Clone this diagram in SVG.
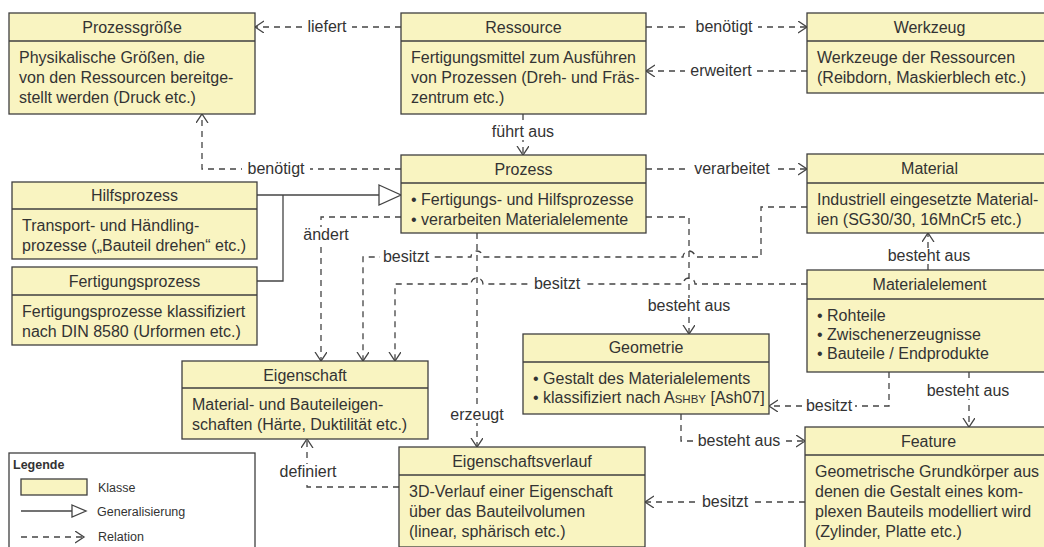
<svg xmlns="http://www.w3.org/2000/svg" width="1044" height="547" viewBox="0 0 1044 547">
  <style>
    .box { fill: #f9f4c1; stroke: #3f3f3f; stroke-width: 1.3; }
    .sep { stroke: #3f3f3f; stroke-width: 1.3; }
    .title { font-family: "Liberation Sans", Arial, sans-serif; font-size: 16px; fill: #333; text-anchor: middle; }
    .body { font-family: "Liberation Sans", Arial, sans-serif; font-size: 16px; fill: #333; }
    .rel { fill: none; stroke: #444; stroke-width: 1.3; stroke-dasharray: 6 5; }
    .gen { fill: none; stroke: #444; stroke-width: 1.3; }
    .lbl { font-family: "Liberation Sans", Arial, sans-serif; font-size: 16px; fill: #333; text-anchor: middle; }
    .lblbg { fill: #fff; stroke: none; }
    .leg { font-family: "Liberation Sans", Arial, sans-serif; font-size: 12.5px; fill: #333; }
  </style>
  <defs>
    <marker id="open" markerUnits="userSpaceOnUse" markerWidth="12" markerHeight="14" refX="9" refY="6" orient="auto">
      <path d="M0,0 L9,6 L0,12" fill="none" stroke="#444" stroke-width="1.3"/>
    </marker>
  </defs>

  <rect width="1044" height="547" fill="#fff"/>

  <!-- connectors -->
  <g id="connectors">
    <path class="rel" d="M401,27 H255" marker-end="url(#open)"/>
    <path class="rel" d="M646,27 H807" marker-end="url(#open)"/>
    <path class="rel" d="M807,71 H646" marker-end="url(#open)"/>
    <path class="rel" d="M523,114 V155" marker-end="url(#open)"/>
    <path class="rel" d="M401,169 H202 V114" marker-end="url(#open)"/>
    <path class="rel" d="M646,169 H807" marker-end="url(#open)"/>
    <path class="rel" d="M401,217 H321 V361" marker-end="url(#open)"/>
    <path class="rel" d="M807,207 H761 V257 H695 A6,6 0 0 0 683,257 H483 A6,6 0 0 0 471,257 H363 V361" marker-end="url(#open)"/>
    <path class="rel" d="M807,284 H695 A6,6 0 0 0 683,284 H483 A6,6 0 0 0 471,284 H395 V361" marker-end="url(#open)"/>
    <path class="rel" d="M477,233 V447" marker-end="url(#open)"/>
    <path class="rel" d="M646,217 H689 V334" marker-end="url(#open)"/>
    <path class="rel" d="M928,270 V233" marker-end="url(#open)"/>
    <path class="rel" d="M889,372 V406 H769" marker-end="url(#open)"/>
    <path class="rel" d="M969,372 V427" marker-end="url(#open)"/>
    <path class="rel" d="M681,414 V441 H805" marker-end="url(#open)"/>
    <path class="rel" d="M805,502 H645" marker-end="url(#open)"/>
    <path class="rel" d="M399,487 H307 V439" marker-end="url(#open)"/>
    <!-- generalization -->
    <path class="gen" d="M257,195 H379"/>
    <path class="gen" d="M257,281 H283 V195"/>
    <polygon class="gen" points="379,185 401,195 379,205" fill="#fff"/>

    <!-- relation labels -->
    <g id="labels">
      <rect class="lblbg" x="302" y="19" width="50" height="16"/><text class="lbl" x="327" y="32">liefert</text>
      <rect class="lblbg" x="690" y="19" width="68" height="16"/><text class="lbl" x="724" y="32">benötigt</text>
      <rect class="lblbg" x="685" y="63" width="72" height="16"/><text class="lbl" x="721" y="76">erweitert</text>
      <rect class="lblbg" x="489" y="124" width="68" height="16"/><text class="lbl" x="523" y="137">führt aus</text>
      <rect class="lblbg" x="242" y="161" width="68" height="16"/><text class="lbl" x="276" y="174">benötigt</text>
      <rect class="lblbg" x="690" y="161" width="84" height="16"/><text class="lbl" x="732" y="174">verarbeitet</text>
      <rect class="lblbg" x="301" y="227" width="50" height="16"/><text class="lbl" x="326" y="240">ändert</text>
      <rect class="lblbg" x="380" y="249" width="52" height="16"/><text class="lbl" x="406" y="262">besitzt</text>
      <rect class="lblbg" x="531" y="276" width="52" height="16"/><text class="lbl" x="557" y="289">besitzt</text>
      <rect class="lblbg" x="449" y="407" width="56" height="16"/><text class="lbl" x="477" y="420">erzeugt</text>
      <rect class="lblbg" x="645" y="298" width="88" height="16"/><text class="lbl" x="689" y="311">besteht aus</text>
      <rect class="lblbg" x="885" y="248" width="88" height="16"/><text class="lbl" x="929" y="261">besteht aus</text>
      <rect class="lblbg" x="803" y="398" width="52" height="16"/><text class="lbl" x="829" y="411">besitzt</text>
      <rect class="lblbg" x="924" y="383" width="88" height="16"/><text class="lbl" x="968" y="396">besteht aus</text>
      <rect class="lblbg" x="695" y="433" width="88" height="16"/><text class="lbl" x="739" y="446">besteht aus</text>
      <rect class="lblbg" x="699" y="494" width="52" height="16"/><text class="lbl" x="725" y="507">besitzt</text>
      <rect class="lblbg" x="278" y="464" width="60" height="16"/><text class="lbl" x="308" y="477">definiert</text>
    </g>
  </g>

  <!-- classes -->
  <g id="prozessgroesse">
    <rect class="box" x="9" y="13" width="246" height="101"/>
    <line class="sep" x1="9" y1="41" x2="255" y2="41"/>
    <text class="title" x="132" y="32.5">Prozessgröße</text>
    <text class="body" x="19" y="63">Physikalische Größen, die</text>
    <text class="body" x="19" y="83">von den Ressourcen bereitge-</text>
    <text class="body" x="19" y="103">stellt werden (Druck etc.)</text>
  </g>

  <g id="ressource">
    <rect class="box" x="401" y="13" width="245" height="101"/>
    <line class="sep" x1="401" y1="41" x2="646" y2="41"/>
    <text class="title" x="523.5" y="32.5">Ressource</text>
    <text class="body" x="411" y="63">Fertigungsmittel zum Ausführen</text>
    <text class="body" x="411" y="83">von Prozessen (Dreh- und Fräs-</text>
    <text class="body" x="411" y="103">zentrum etc.)</text>
  </g>

  <g id="werkzeug">
    <rect class="box" x="807" y="13" width="245" height="80"/>
    <line class="sep" x1="807" y1="41" x2="1052" y2="41"/>
    <text class="title" x="929.5" y="32.5">Werkzeug</text>
    <text class="body" x="817" y="63">Werkzeuge der Ressourcen</text>
    <text class="body" x="817" y="83">(Reibdorn, Maskierblech etc.)</text>
  </g>

  <g id="prozess">
    <rect class="box" x="401" y="155" width="245" height="78"/>
    <line class="sep" x1="401" y1="183" x2="646" y2="183"/>
    <text class="title" x="523.5" y="174.5">Prozess</text>
    <text class="body" x="411" y="205">• Fertigungs- und Hilfsprozesse</text>
    <text class="body" x="411" y="225">• verarbeiten Materialelemente</text>
  </g>

  <g id="material">
    <rect class="box" x="807" y="154" width="245" height="79"/>
    <line class="sep" x1="807" y1="183" x2="1052" y2="183"/>
    <text class="title" x="929.5" y="174">Material</text>
    <text class="body" x="817" y="205">Industriell eingesetzte Material-</text>
    <text class="body" x="817" y="225">ien (SG30/30, 16MnCr5 etc.)</text>
  </g>

  <g id="hilfsprozess">
    <rect class="box" x="12" y="182" width="245" height="77"/>
    <line class="sep" x1="12" y1="209" x2="257" y2="209"/>
    <text class="title" x="134.5" y="201">Hilfsprozess</text>
    <text class="body" x="22" y="231">Transport- und Händling-</text>
    <text class="body" x="22" y="251">prozesse („Bauteil drehen“ etc.)</text>
  </g>

  <g id="fertigungsprozess">
    <rect class="box" x="12" y="267" width="245" height="78"/>
    <line class="sep" x1="12" y1="295" x2="257" y2="295"/>
    <text class="title" x="134.5" y="286.5">Fertigungsprozess</text>
    <text class="body" x="22" y="317">Fertigungsprozesse klassifiziert</text>
    <text class="body" x="22" y="337">nach DIN 8580 (Urformen etc.)</text>
  </g>

  <g id="materialelement">
    <rect class="box" x="807" y="270" width="245" height="102"/>
    <line class="sep" x1="807" y1="299" x2="1052" y2="299"/>
    <text class="title" x="929.5" y="290">Materialelement</text>
    <text class="body" x="817" y="321">• Rohteile</text>
    <text class="body" x="817" y="340">• Zwischenerzeugnisse</text>
    <text class="body" x="817" y="359">• Bauteile / Endprodukte</text>
  </g>

  <g id="geometrie">
    <rect class="box" x="523" y="334" width="246" height="80"/>
    <line class="sep" x1="523" y1="362" x2="769" y2="362"/>
    <text class="title" x="646" y="353">Geometrie</text>
    <text class="body" x="533" y="384">• Gestalt des Materialelements</text>
    <text class="body" x="533" y="403">• klassifiziert nach A<tspan font-size="11.5">SHBY</tspan> [Ash07]</text>
  </g>

  <g id="eigenschaft">
    <rect class="box" x="182" y="361" width="246" height="78"/>
    <line class="sep" x1="182" y1="388" x2="428" y2="388"/>
    <text class="title" x="305" y="380.5">Eigenschaft</text>
    <text class="body" x="192" y="410">Material- und Bauteileigen-</text>
    <text class="body" x="192" y="430">schaften (Härte, Duktilität etc.)</text>
  </g>

  <g id="eigenschaftsverlauf">
    <rect class="box" x="399" y="447" width="246" height="100"/>
    <line class="sep" x1="399" y1="475" x2="645" y2="475"/>
    <text class="title" x="522" y="466.5">Eigenschaftsverlauf</text>
    <text class="body" x="409" y="497">3D-Verlauf einer Eigenschaft</text>
    <text class="body" x="409" y="517">über das Bauteilvolumen</text>
    <text class="body" x="409" y="537">(linear, sphärisch etc.)</text>
  </g>

  <g id="feature">
    <rect class="box" x="805" y="427" width="247" height="122"/>
    <line class="sep" x1="805" y1="455" x2="1052" y2="455"/>
    <text class="title" x="928.5" y="446.5">Feature</text>
    <text class="body" x="815" y="477">Geometrische Grundkörper aus</text>
    <text class="body" x="815" y="497">denen die Gestalt eines kom-</text>
    <text class="body" x="815" y="517">plexen Bauteils modelliert wird</text>
    <text class="body" x="815" y="537">(Zylinder, Platte etc.)</text>
  </g>

  <!-- legend -->
  <g id="legende">
    <rect x="9" y="453" width="246" height="100" fill="#fff" stroke="#3f3f3f" stroke-width="1.3"/>
    <text class="leg" x="13" y="469" font-weight="bold">Legende</text>
    <rect class="box" x="21" y="479" width="66" height="16"/>
    <text class="leg" x="98" y="492">Klasse</text>
    <path class="gen" d="M21,511 H72"/>
    <polygon class="gen" points="72,505 86,511 72,517" fill="#fff"/>
    <text class="leg" x="97" y="516">Generalisierung</text>
    <path class="rel" d="M21,537 H84" stroke-dasharray="5 5" marker-end="url(#open)"/>
    <text class="leg" x="98" y="541">Relation</text>
  </g>
</svg>
